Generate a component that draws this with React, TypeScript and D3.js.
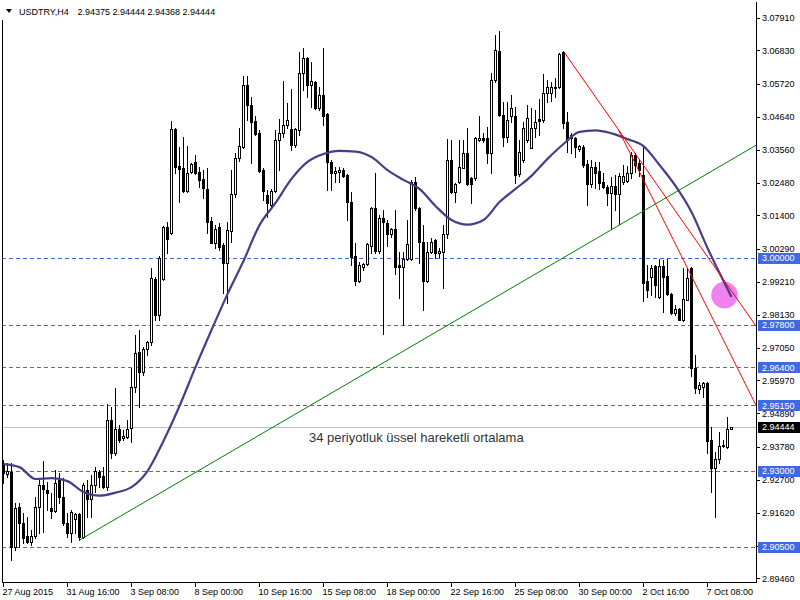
import React from 'react';
import * as d3 from 'd3';

const opens = [2.9319,2.9289,2.9296,2.9049,2.9181,2.9128,2.9085,2.9065,2.9085,2.9181,
2.9253,2.9237,2.9177,2.9167,2.9269,2.9214,2.9128,2.9095,2.9141,2.9158,
2.9082,2.9237,2.9207,2.9253,2.9296,2.9283,2.9246,2.9467,2.9358,2.9437,
2.9408,2.9411,2.9441,2.9575,2.9690,2.9625,2.9700,2.9723,2.9931,2.9812,
2.9931,3.0102,3.0082,3.0424,3.0302,3.0296,3.0220,3.0283,3.0316,3.0283,
3.0260,3.0227,3.0121,3.0049,3.0102,3.0043,2.9983,3.0089,3.0210,3.0329,
3.0365,3.0569,3.0503,3.0451,3.0411,3.0289,3.0207,3.0174,3.0220,3.0388,
3.0411,3.0437,3.0424,3.0372,3.0421,3.0608,3.0658,3.0569,3.0579,3.0493,
3.0536,3.0474,3.0316,3.0280,3.0283,3.0289,3.0273,3.0184,3.0006,2.9924,
2.9970,2.9980,3.0039,3.0164,3.0023,3.0131,3.0115,3.0079,3.0095,2.9977,
2.9970,2.9997,2.9997,3.0250,3.0164,3.0052,2.9924,3.0020,3.0059,3.0016,
3.0020,3.0079,3.0322,3.0217,3.0250,3.0296,3.0345,3.0263,3.0263,3.0388,
3.0395,3.0395,3.0345,3.0585,3.0681,3.0470,3.0398,3.0467,3.0467,3.0276,
3.0322,3.0388,3.0362,3.0428,3.0457,3.0454,3.0543,3.0543,3.0559,3.0562,
3.0678,3.0447,3.0405,3.0395,3.0359,3.0365,3.0309,3.0243,3.0299,3.0286,
3.0250,3.0234,3.0214,3.0237,3.0210,3.0250,3.0253,3.0280,3.0339,3.0312,
3.0273,2.9924,2.9937,2.9974,2.9872,2.9974,2.9941,2.9881,2.9819,2.9832,
2.9796,2.9862,2.9967,2.9638,2.9569,2.9575,2.9589,2.9401,2.9309,2.9339,
2.9381,2.9378,2.94375];

const highs = [2.9335,2.9325,2.9325,2.9194,2.9194,2.9161,2.9148,2.9105,2.9214,2.9269,
2.9332,2.9263,2.9227,2.9302,2.9293,2.9276,2.9161,2.9171,2.9161,2.9161,
2.9260,2.9269,2.9286,2.9312,2.9302,2.9312,2.9520,2.9510,2.9572,2.9450,
2.9434,2.9467,2.9638,2.9747,2.9763,2.9707,2.9727,2.9967,2.9937,3.0006,
3.0105,3.0118,3.0451,3.0427,3.0365,3.0398,3.0368,3.0312,3.0339,3.0299,
3.0289,3.0296,3.0135,3.0108,3.0115,3.0049,3.0118,3.0289,3.0345,3.0428,
3.0599,3.0599,3.0530,3.0467,3.0421,3.0296,3.0224,3.0227,3.0421,3.0457,
3.0582,3.0510,3.0556,3.0428,3.0678,3.0691,3.0661,3.0645,3.0582,3.0562,
3.0691,3.0477,3.0322,3.0299,3.0299,3.0296,3.0276,3.0217,3.0049,2.9987,
2.9983,3.0049,3.0168,3.0280,3.0141,3.0158,3.0125,3.0099,3.0158,3.0020,
3.0020,3.0125,3.0257,3.0266,3.0168,3.0108,3.0052,3.0066,3.0062,3.0033,
3.0108,3.0391,3.0388,3.0247,3.0388,3.0388,3.0428,3.0266,3.0398,3.0467,
3.0411,3.0431,3.0608,3.0733,3.0747,3.0513,3.0513,3.0536,3.0497,3.0388,
3.0447,3.0503,3.0493,3.0487,3.0523,3.0605,3.0585,3.0579,3.0592,3.0674,
3.0680,3.0480,3.0411,3.0398,3.0372,3.0372,3.0322,3.0322,3.0316,3.0316,
3.0280,3.0240,3.0266,3.0273,3.0280,3.0306,3.0302,3.0349,3.0345,3.0326,
3.0368,2.9977,2.9977,2.9977,2.9997,2.9993,2.9997,2.9884,2.9845,2.9835,
2.9967,2.9967,2.9970,2.9681,2.9592,2.9592,2.9592,2.9444,2.9362,2.9427,
2.9401,2.9477,2.94444];

const lows = [2.9260,2.9279,2.9006,2.9039,2.9049,2.9062,2.9062,2.9056,2.9079,2.9095,
2.9098,2.9171,2.9144,2.9164,2.9194,2.9121,2.9082,2.9065,2.9095,2.9072,
2.9079,2.9148,2.9148,2.9230,2.9246,2.9243,2.9237,2.9342,2.9352,2.9394,
2.9401,2.9408,2.9394,2.9559,2.9510,2.9615,2.9681,2.9713,2.9796,2.9796,
2.9928,3.0016,3.0079,3.0280,3.0184,3.0217,3.0217,3.0280,3.0276,3.0234,
3.0197,3.0082,3.0049,3.0033,3.0026,2.9885,2.9852,3.0052,3.0201,3.0319,
3.0362,3.0454,3.0312,3.0405,3.0283,3.0191,3.0135,3.0168,3.0217,3.0289,
3.0398,3.0428,3.0355,3.0365,3.0405,3.0553,3.0530,3.0497,3.0490,3.0487,
3.0437,3.0224,3.0224,3.0250,3.0250,3.0266,3.0125,2.9977,2.9911,2.9921,
2.9960,2.9977,3.0016,3.0016,3.0016,2.9750,3.0039,3.0069,2.9947,2.9868,
2.9779,2.9993,2.9993,3.0158,2.9983,2.9829,2.9921,3.0016,3.0000,3.0003,
2.9901,3.0066,3.0214,3.0184,3.0247,3.0296,3.0240,3.0181,3.0257,3.0385,
3.0382,3.0312,3.0280,3.0579,3.0467,3.0368,3.0382,3.0447,3.0247,3.0270,
3.0316,3.0382,3.0362,3.0398,3.0405,3.0447,3.0513,3.0516,3.0530,3.0559,
3.0428,3.0349,3.0345,3.0332,3.0352,3.0299,3.0174,3.0234,3.0230,3.0227,
3.0230,3.0174,3.0095,3.0158,3.0112,3.0243,3.0250,3.0263,3.0283,3.0270,
2.9858,2.9872,2.9878,2.9872,2.9868,2.9822,2.9878,2.9816,2.9812,2.9796,
2.9793,2.9862,2.9612,2.9556,2.9556,2.9543,2.9358,2.9230,2.9148,2.9325,
2.9378,2.9375,2.94368];

const closes = [2.9293,2.9299,2.9049,2.9177,2.9128,2.9079,2.9065,2.9085,2.9181,2.9253,
2.9240,2.9227,2.9167,2.9260,2.9214,2.9128,2.9095,2.9164,2.9158,2.9082,
2.9253,2.9207,2.9253,2.9299,2.9279,2.9246,2.9467,2.9358,2.9437,2.9401,
2.9414,2.9437,2.9575,2.9687,2.9625,2.9700,2.9723,2.9934,2.9812,3.0000,
3.0102,3.0062,3.0424,3.0299,3.0293,3.0220,3.0280,3.0309,3.0280,3.0257,
3.0230,3.0118,3.0049,3.0095,3.0036,2.9983,3.0092,3.0210,3.0329,3.0368,
3.0569,3.0503,3.0447,3.0408,3.0286,3.0220,3.0181,3.0220,3.0388,3.0411,
3.0437,3.0454,3.0372,3.0424,3.0608,3.0658,3.0569,3.0582,3.0493,3.0536,
3.0467,3.0316,3.0280,3.0286,3.0289,3.0270,3.0184,3.0003,2.9924,2.9977,
2.9980,3.0046,3.0164,3.0023,3.0131,3.0118,3.0079,3.0095,2.9970,2.9970,
2.9997,3.0046,3.0250,3.0164,3.0052,2.9924,3.0020,3.0052,3.0016,3.0023,
3.0079,3.0322,3.0217,3.0243,3.0299,3.0345,3.0243,3.0243,3.0395,3.0395,
3.0388,3.0345,3.0585,3.0684,3.0470,3.0398,3.0454,3.0493,3.0273,3.0349,
3.0428,3.0460,3.0428,3.0447,3.0451,3.0543,3.0562,3.0562,3.0562,3.0671,
3.0444,3.0388,3.0395,3.0365,3.0368,3.0306,3.0243,3.0299,3.0280,3.0247,
3.0234,3.0214,3.0237,3.0210,3.0270,3.0270,3.0280,3.0339,3.0306,3.0289,
2.9918,2.9895,2.9967,2.9911,2.9974,2.9937,2.9881,2.9819,2.9832,2.9796,
2.9865,2.9934,2.9638,2.9572,2.9582,2.9589,2.9398,2.9309,2.9339,2.9381,
2.9384,2.9437,2.94444];

// 34-period EMA, every 4 bars
const emaIdx = [0,4,8,12,16,20,24,28,32,36,40,44,48,52,56,60,64,68,72,76,80,84,88,92,
96,100,104,108,112,116,120,124,128,132,136,140,144,148,152,156,160,164,168,172,176,180,182];
const emaValues = [2.9322,2.9312,2.9273,2.9276,2.9266,2.9230,2.9218,2.9228,2.9246,2.9299,
2.9398,2.9513,2.9641,2.9763,2.9881,2.9990,3.0108,3.0181,3.0260,3.0316,
3.0342,3.0352,3.0350,3.0332,3.0289,3.0257,3.0227,3.0171,3.0125,3.0110,
3.0125,3.0184,3.0227,3.0270,3.0326,3.0375,3.0415,3.0420,3.0410,3.0391,
3.0368,3.0306,3.0237,3.0151,3.0033,2.9924,2.9872];

const timeTickIdx = [0,16,32,48,64,80,96,112,128,144,160,176];
const timeTickLabels = ['27 Aug 2015','31 Aug 16:00','3 Sep 08:00','8 Sep 00:00','10 Sep 16:00',
'15 Sep 08:00','18 Sep 00:00','22 Sep 16:00','25 Sep 08:00','30 Sep 00:00','2 Oct 16:00','7 Oct 08:00'];

const priceTicks = [3.0791,3.0683,3.0572,3.0464,3.0356,3.0248,3.0140,3.0029,2.9921,2.9813,
2.9705,2.9597,2.9489,2.9378,2.9270,2.9162,2.9054,2.8946];

const levels = [3.0, 2.978, 2.964, 2.9515, 2.93, 2.905];
const bidPrice = 2.94444;

const symbolText = 'USDTRY,H4';
const ohlcText = '2.94375 2.94444 2.94368 2.94444';
const noteText = '34 periyotluk üssel hareketli ortalama';

const greenLine = [[19, 2.9072], [188.3, 3.0372]];
const redLine1 = [[140, 3.0680], [188.3, 2.9773]];
const redLine2 = [[153.75, 3.0421], [188.3, 2.9511]];
const circleAt = [180.25, 2.9878];

const FONT = '"Liberation Sans", Arial, sans-serif';

export default function App() {
  const x = d3.scaleLinear().domain([0, 182]).range([3, 731]);
  const y = d3.scaleLinear().domain([2.8946, 3.0791]).range([578.4, 17.5]);
  const xc = (i: number) => x(i) + 0.5;
  const py = (v: number) => Math.round(y(v)) + 0.5;

  const emaLine = d3.line<number>()
    .x((_, k) => xc(emaIdx[k]))
    .y((v) => y(v))
    .curve(d3.curveMonotoneX);

  const seg = (pts: number[][]) => ({ x1: xc(pts[0][0]), y1: y(pts[0][1]), x2: xc(pts[1][0]), y2: y(pts[1][1]) });
  const fmt = d3.format('.5f');

  return (
    <svg width={800} height={600} style={{ position: 'fixed', left: 0, top: 0, display: 'block' }}
      fontFamily={FONT}>
      <defs>
        <clipPath id="plot"><rect x={2} y={0} width={754} height={582} /></clipPath>
      </defs>
      <rect x={0} y={0} width={800} height={600} fill="#ffffff" />

      <g clipPath="url(#plot)">
        <circle cx={xc(circleAt[0])} cy={y(circleAt[1])} r={13.3} fill="#EE82EE" />

        {levels.map((v) => (
          <line key={v} x1={2} x2={756} y1={py(v)} y2={py(v)} stroke="#4169E1" strokeDasharray="4,3"
            shapeRendering="crispEdges" />
        ))}
        <line x1={2} x2={756} y1={py(bidPrice)} y2={py(bidPrice)} stroke="#C0C0C0" shapeRendering="crispEdges" />

        <g shapeRendering="crispEdges">
          {opens.map((o, i) => {
            const c = closes[i];
            const top = Math.round(y(Math.max(o, c)));
            const bot = Math.round(y(Math.min(o, c)));
            const bull = c >= o;
            return (
              <g key={i}>
                <line x1={xc(i)} x2={xc(i)} y1={Math.round(y(highs[i]))} y2={Math.round(y(lows[i])) + 1} stroke="#000" />
                {bull ? (
                  <rect x={x(i) - 0.5} y={top + 0.5} width={2} height={Math.max(0, bot - top)} fill="#fff" stroke="#000" />
                ) : (
                  <rect x={x(i) - 1} y={top} width={3} height={Math.max(1, bot - top + 1)} fill="#000" />
                )}
              </g>
            );
          })}
        </g>

        <path d={emaLine(emaValues) || ''} fill="none" stroke="#483D8B" strokeWidth={2.2} />

        <line {...seg(greenLine)} stroke="#008000" strokeWidth={1} />
        <line {...seg(redLine1)} stroke="#FF0000" strokeWidth={1} />
        <line {...seg(redLine2)} stroke="#FF0000" strokeWidth={1} />
      </g>

      <text x={309} y={441.5} fontSize={13} fill="#333">{noteText}</text>

      {/* frame */}
      <g shapeRendering="crispEdges" stroke="#000">
        <line x1={2.5} x2={2.5} y1={20} y2={583} />
        <line x1={756.5} x2={756.5} y1={2} y2={583} />
        <line x1={2} x2={757} y1={582.5} y2={582.5} />
        {timeTickIdx.map((i) => (
          <line key={i} x1={xc(i)} x2={xc(i)} y1={583} y2={587} />
        ))}
        {priceTicks.map((v) => (
          <line key={v} x1={757} x2={760} y1={py(v)} y2={py(v)} />
        ))}
      </g>

      {timeTickLabels.map((t, k) => (
        <text key={t} x={x(timeTickIdx[k]) - 0.5} y={595} fontSize={9} fill="#000">{t}</text>
      ))}

      {priceTicks.map((v) => (
        <text key={v} x={762} y={y(v) + 3.3} fontSize={9} fill="#000">{fmt(v)}</text>
      ))}

      {levels.map((v) => (
        <g key={v}>
          <rect x={758} y={Math.round(y(v)) - 5} width={42} height={11} fill="#4169E1" />
          <text x={762} y={y(v) + 3.3} fontSize={9} fill="#fff">{fmt(v)}</text>
        </g>
      ))}
      <rect x={758} y={Math.round(y(bidPrice)) - 5} width={42} height={11} fill="#000" />
      <text x={762} y={y(bidPrice) + 3.3} fontSize={9} fill="#fff">{fmt(bidPrice)}</text>

      {/* header */}
      <path d="M6,9 L12,9 L9,13 Z" fill="#000" />
      <text x={19} y={14.5} fontSize={9} fill="#000">{symbolText}</text>
      <text x={77.5} y={14.5} fontSize={9} fill="#000">{ohlcText}</text>
    </svg>
  );
}
